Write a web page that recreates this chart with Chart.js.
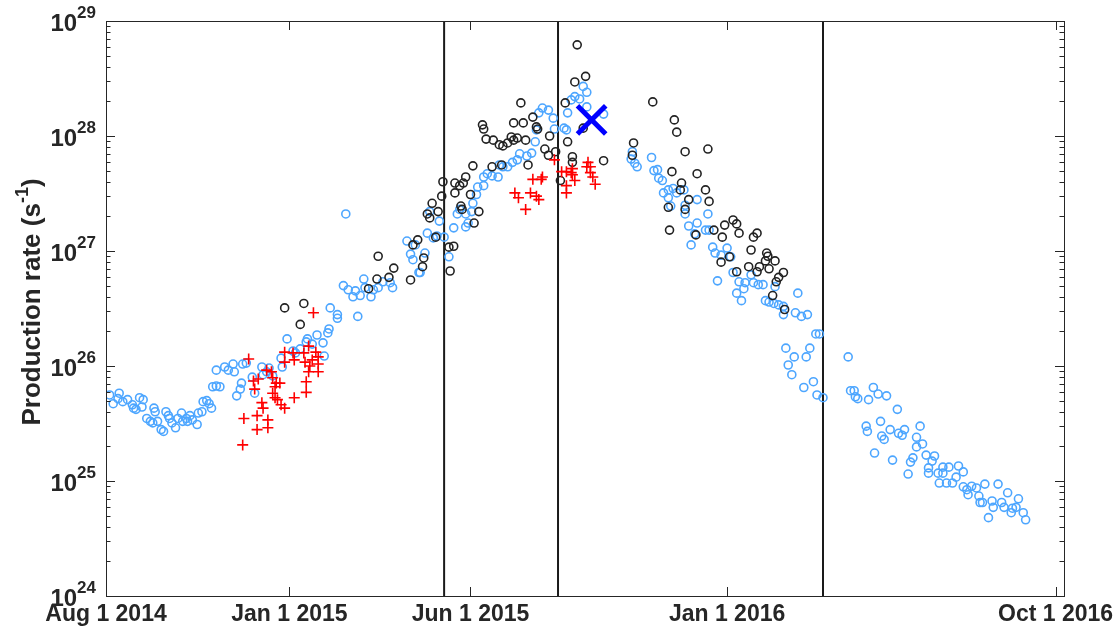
<!DOCTYPE html>
<html>
<head>
<meta charset="utf-8">
<script src="https://cdn.jsdelivr.net/npm/chart.js@4.4.1/dist/chart.umd.min.js"></script>
<style>
  html, body { margin: 0; padding: 0; background: #fff; }
</style>
</head>
<body>
<canvas id="chart" width="1119" height="630"></canvas>
<script>
// x values are days since Aug 1 2014, y values are production rates (s^-1)
const blueDays = [
  3, 6, 10, 11, 14, 18, 22, 23, 25, 28, 31, 30, 34, 37, 39, 40, 41, 43, 46, 48,
  50, 52, 53, 55, 58, 60, 63, 64, 67, 68, 70, 72, 76, 77, 80, 81, 84, 86, 88, 89,
  92, 95, 92, 99, 102, 106, 107, 109, 112, 113, 114, 117, 122, 124, 130, 131, 134, 136, 139, 146,
  147, 151, 156, 158, 162, 167, 168, 172, 176, 182, 181, 185, 186, 187, 193, 193,
  200, 210, 198, 202, 206, 208, 212, 215, 216, 221, 223, 227, 231, 237, 239, 251, 254, 256, 261, 258,
  270, 278, 268, 273, 276, 266, 262,
  361, 359, 358, 355, 351, 345, 343, 339, 335, 331, 328, 327, 322, 318, 315, 315, 310, 309, 306, 305,
  300, 295, 293, 302, 300, 290, 286, 282,
  364, 369, 373, 374, 382, 384, 385, 388, 391, 395, 398, 401, 401, 415,
  439, 438, 441, 443, 455, 457, 460, 461, 464, 465, 469, 473, 476, 482, 469, 471, 483, 483, 486,
  493, 493, 502, 500, 503, 491, 488, 506, 508, 513, 518, 521, 523, 510, 528, 533, 538, 532, 526, 530,
  540, 544, 548, 558, 550, 553, 557, 561, 565, 565, 577, 575, 580, 585, 592, 595, 567, 587, 574, 584,
  569, 572, 590, 582, 593, 598,
  619, 621, 624, 625, 627, 640, 636, 644, 651, 660, 634, 635, 646, 647, 649, 654, 661, 664, 666, 679,
  676, 681, 676, 641, 656, 671, 673, 669, 684, 691, 689, 686, 686, 694, 698, 703, 698, 695, 701, 706,
  709, 711, 715, 715, 718, 719, 722, 726, 728, 729, 731, 733, 739, 740, 744, 747, 749, 752, 756, 755,
  759, 761, 765, 767, 736
];
const blueRates = [
  5.6e25, 4.7e25, 5.2e25, 5.8e25, 4.9e25, 5.1e25, 4.6e25, 4.3e25, 4.2e25, 5.3e25, 5.1e25, 4.4e25, 3.5e25, 3.3e25, 3.2e25, 4.3e25, 4.0e25, 3.3e25, 2.8e25, 2.7e25,
  4.0e25, 3.7e25, 3.5e25, 3.2e25, 2.9e25, 3.5e25, 3.9e25, 3.3e25, 3.5e25, 3.3e25, 3.7e25, 3.4e25, 3.1e25, 3.9e25, 4.0e25, 4.9e25, 5.0e25, 4.7e25, 4.3e25, 6.6e25,
  6.7e25, 6.6e25, 9.2e25, 9.8e25, 9.2e25, 1.04e26, 8.9e25, 5.5e25, 6.3e25, 7.1e25, 1.04e26, 1.06e26, 8.0e25, 5.8e25, 9.8e25, 8.4e25, 8.9e25, 9.6e25, 8.2e25, 1.17e26,
  9.8e25, 1.72e26, 1.35e26, 1.30e26, 1.41e26, 1.62e26, 1.72e26, 1.55e26, 1.86e26, 1.22e26, 1.59e26, 1.94e26, 2.1e26, 3.2e26, 2.6e26, 2.8e26,
  2.1e27, 2.7e26, 5.0e26, 4.6e26, 4.0e26, 4.5e26, 4.1e26, 5.7e26, 4.8e26, 4.0e26, 4.6e26, 4.8e26, 5.4e26, 5.3e26, 4.8e26, 1.22e27, 9.4e26, 8.4e26, 6.5e26, 1.13e27,
  2.2e27, 1.82e27, 1.43e27, 1.30e27, 1.35e27, 9.6e26, 6.5e26,
  1.59e28, 1.13e28, 8.9e27, 7.1e27, 6.7e27, 7.0e27, 6.2e27, 5.9e27, 5.4e27, 5.4e27, 5.6e27, 4.4e27, 4.5e27, 4.7e27, 4.4e27, 3.7e27, 3.6e27, 3.1e27, 2.6e27, 2.2e27,
  2.1e27, 2.3e27, 2.1e27, 1.75e27, 1.62e27, 1.59e27, 8.9e26, 1.32e27,
  1.75e28, 1.68e28, 1.43e28, 1.15e28, 1.17e28, 1.13e28, 1.59e28, 2.06e28, 2.2e28, 2.1e28, 2.7e28, 2.4e28, 1.79e28, 1.55e28,
  7.3e27, 6.3e27, 5.8e27, 5.4e27, 6.5e27, 5.0e27, 5.1e27, 4.3e27, 4.1e27, 3.2e27, 3.4e27, 3.5e27, 3.2e27, 3.4e27, 2.9e27, 2.46e27, 2.5e27, 2.1e27, 1.65e27,
  2.8e27, 1.75e27, 2.1e27, 1.52e27, 1.52e27, 1.41e27, 1.13e27, 1.08e27, 9.6e26, 9.2e26, 1.06e27, 8.9e26, 6.5e26, 5.5e26, 5.4e26, 5.3e26, 6.2e26, 4.7e26, 4.3e26, 3.7e26,
  5.3e26, 5.1e26, 5.1e26, 4.9e26, 3.7e26, 3.6e26, 3.5e26, 3.4e26, 3.3e26, 2.8e26, 4.3e26, 2.9e26, 2.7e26, 2.8e26, 1.9e26, 1.9e26, 1.43e26, 1.43e26, 1.2e26, 1.2e26,
  1.02e26, 8.4e25, 7.3e25, 6.5e25, 5.6e25, 5.3e25,
  1.2e26, 6.1e25, 6.1e25, 5.4e25, 5.2e25, 6.5e25, 5.1e25, 5.7e25, 5.5e25, 4.2e25, 3.0e25, 2.7e25, 3.3e25, 2.46e25, 2.3e25, 2.8e25, 2.6e25, 2.5e25, 2.8e25, 3.0e25,
  2.4e25, 2.1e25, 1.98e25, 1.75e25, 1.52e25, 1.46e25, 1.59e25, 1.15e25, 1.68e25, 1.65e25, 1.49e25, 1.30e25, 1.17e25, 1.17e25, 1.32e25, 1.32e25, 1.17e25, 9.6e24, 9.6e24, 9.6e24,
  1.08e25, 1.35e25, 1.2e25, 8.9e24, 8.4e24, 7.6e24, 9.0e24, 8.7e24, 7.4e24, 6.5e24, 6.5e24, 9.4e24, 6.7e24, 5.9e24, 9.4e24, 6.5e24, 5.9e24, 7.9e24, 5.8e24, 5.3e24,
  5.9e24, 7.0e24, 5.3e24, 4.6e24, 4.8e24
];

const blackDays = [
  149, 165, 162, 227, 240, 226, 219, 236, 254, 260, 256,
  281, 280, 272, 268, 270, 277, 275, 265, 264, 286, 290, 287, 291, 291, 295, 298, 304, 296, 297,
  307, 311, 314, 315, 340, 348, 356, 359, 360, 317, 323, 328, 331, 335, 338, 340, 343, 350, 352, 306,
  322, 330, 300, 346, 393, 391, 400, 383, 370, 385, 366, 369, 375, 389, 389, 398, 415, 379,
  456, 474, 476, 440, 439, 483, 472, 480, 479, 486, 469, 483, 470,
  502, 493, 500, 503, 507, 516, 523, 526, 492, 514, 528, 540, 543, 538, 551, 552, 558, 550, 513, 520,
  536, 545, 543, 553, 526, 561, 565, 559, 556, 566
];
const blackRates = [
  3.2e26, 3.5e26, 2.3e26, 9.0e26, 7.1e26, 5.7e26, 4.7e26, 5.9e26, 5.6e26, 1.25e27, 1.13e27,
  4.0e27, 3.0e27, 2.6e27, 2.1e27, 1.94e27, 2.2e27, 1.32e27, 8.7e26, 7.3e26, 1.08e27, 1.1e27, 6.7e26, 3.2e27, 3.9e27, 3.7e27, 3.9e27, 3.1e27, 2.46e27, 2.3e27,
  1.75e27, 2.2e27, 1.25e28, 1.15e28, 1.3e28, 1.3e28, 1.46e28, 1.2e28, 1.15e28, 9.4e27, 9.2e27, 8.4e27, 8.2e27, 8.7e27, 9.8e27, 9.2e27, 9.6e27, 9.2e27, 5.6e27, 5.5e27,
  5.4e27, 5.6e27, 4.4e27, 1.94e28, 6.2e28, 2.95e28, 3.3e28, 1.94e28, 1.0e28, 8.9e27, 7.7e27, 6.8e27, 7.3e27, 6.6e27, 5.9e27, 1.17e28, 6.1e27, 4.1e27,
  1.98e28, 1.38e28, 1.08e28, 8.7e27, 6.8e27, 7.3e27, 4.9e27, 3.9e27, 3.4e27, 2.8e27, 2.4e27, 2.3e27, 1.52e27,
  7.7e27, 4.7e27, 3.4e27, 2.7e27, 1.52e27, 1.68e27, 1.86e27, 1.72e27, 1.38e27, 1.32e27, 1.43e27, 1.32e27, 1.43e27, 1.02e27, 9.6e26, 9.0e26, 8.2e26, 8.2e26, 8.0e26, 8.9e26,
  7.3e26, 7.3e26, 6.6e26, 7.0e26, 6.6e26, 5.9e26, 6.5e26, 5.4e26, 4.1e26, 3.1e26
];

const redDays = [
  173, 119, 123, 127, 124, 130, 131, 115, 126, 126, 114, 135, 135, 134, 138, 139, 141, 139, 142, 145,
  141, 143, 146, 149, 149, 149, 156, 157, 157, 165, 166, 167, 167, 169, 169, 172, 175, 177, 177, 177,
  170,
  374, 384, 388, 389, 389, 391, 384, 384, 402, 401, 404, 404, 406, 408, 356, 363, 364, 341, 344, 354,
  359, 361, 350, 380
];
const redRates = [
  2.9e26, 1.15e26, 7.4e25, 7.7e25, 6.3e25, 4.8e25, 4.3e25, 3.5e25, 3.7e25, 2.8e25, 2.06e25, 3.4e25, 2.9e25, 9.2e25, 8.9e25, 7.9e25, 6.6e25, 5.8e25, 7.1e25, 7.1e25,
  5.3e25, 5.1e25, 4.6e25, 4.3e25, 1.32e26, 1.08e26, 1.3e26, 1.13e26, 5.3e25, 1.3e26, 1.08e26, 7.3e25, 5.9e25, 1.49e26, 8.9e25, 1.13e26, 1.32e26, 1.2e26, 1.04e26, 8.9e25,
  1.0e26,
  6.2e27, 4.9e27, 4.8e27, 5.2e27, 4.6e27, 4.1e27, 3.7e27, 3.2e27, 5.9e27, 5.4e27, 5.4e27, 4.8e27, 4.4e27, 3.8e27, 4.2e27, 4.2e27, 4.4e27, 3.2e27, 2.9e27, 3.2e27,
  3.0e27, 2.8e27, 2.3e27, 4.9e27
];

const markDays = [405];
const markRates = [1.38e28];

// vertical event lines (days since Aug 1 2014)
const eventDays = [282, 377, 598];

const tickDays = [0, 153, 304, 518, 792];
const tickLabels = ['Aug 1 2014', 'Jan 1 2015', 'Jun 1 2015', 'Jan 1 2016', 'Oct 1 2016'];
const decades = [24, 25, 26, 27, 28, 29];
const yMin = 1e24, yMax = 1e29;

const pts = (xs, ys) => xs.map((d, i) => ({ x: d, y: ys[i] }));

const textColor = '#262626';
const font = 'Liberation Sans, Arial, Helvetica, sans-serif';

const axesPlugin = {
  id: 'matlabAxes',
  afterDraw(chart) {
    const { ctx, chartArea: a, scales: { x, y } } = chart;
    ctx.save();
    ctx.strokeStyle = textColor;
    ctx.lineWidth = 1;
    const seg = (x1, y1, x2, y2) => {
      ctx.beginPath(); ctx.moveTo(x1, y1); ctx.lineTo(x2, y2); ctx.stroke();
    };
    ctx.strokeRect(Math.round(a.left) + 0.5, Math.round(a.top) + 0.5,
      Math.round(a.right - a.left), Math.round(a.bottom - a.top));

    // log ticks, major and minor, inward on both sides
    decades.forEach(e => {
      for (let m = 1; m < 10; m++) {
        if (e === decades[decades.length - 1] && m > 1) break;
        const py = Math.round(y.getPixelForValue(m * Math.pow(10, e))) + 0.5;
        const len = m === 1 ? 9 : 4.5;
        seg(a.left, py, a.left + len, py);
        seg(a.right, py, a.right - len, py);
      }
    });
    tickDays.forEach(d => {
      const px = Math.round(x.getPixelForValue(d)) + 0.5;
      seg(px, a.bottom, px, a.bottom - 9);
      seg(px, a.top, px, a.top + 9);
    });

    ctx.fillStyle = textColor;
    // y tick labels 10^n
    decades.forEach(e => {
      const py = y.getPixelForValue(Math.pow(10, e));
      ctx.font = 'bold 17px ' + font;
      const ew = ctx.measureText(String(e)).width;
      ctx.textAlign = 'right';
      ctx.textBaseline = 'alphabetic';
      ctx.fillText(String(e), 96, py - 3);
      ctx.font = 'bold 24px ' + font;
      ctx.fillText('10', 96 - ew, py + 10);
    });

    // x tick labels
    ctx.font = 'bold 23px ' + font;
    ctx.textAlign = 'center';
    ctx.textBaseline = 'alphabetic';
    tickDays.forEach((d, i) => {
      ctx.fillText(tickLabels[i], x.getPixelForValue(d), 621);
    });

    // y axis title with superscript
    ctx.translate(31, 302);
    ctx.rotate(-Math.PI / 2);
    ctx.textAlign = 'left';
    ctx.font = 'bold 26px ' + font;
    const t1 = 'Production rate (s', t3 = ')';
    const w1 = ctx.measureText(t1).width, w3 = ctx.measureText(t3).width;
    ctx.font = 'bold 18px ' + font;
    const w2 = ctx.measureText('-1').width;
    let cx = -(w1 + w2 + w3) / 2;
    ctx.font = 'bold 26px ' + font;
    ctx.fillText(t1, cx, 9);
    ctx.font = 'bold 18px ' + font;
    ctx.fillText('-1', cx + w1, -3);
    ctx.font = 'bold 26px ' + font;
    ctx.fillText(t3, cx + w1 + w2, 9);
    ctx.restore();
  }
};

new Chart(document.getElementById('chart').getContext('2d'), {
  type: 'scatter',
  data: {
    datasets: [
      {
        label: 'mark',
        data: pts(markDays, markRates),
        pointStyle: 'crossRot',
        pointRadius: 20,
        borderColor: '#0000ff',
        borderWidth: 5,
        order: 0
      },
      {
        label: 'red',
        data: pts(redDays, redRates),
        pointStyle: 'cross',
        pointRadius: 5.5,
        borderColor: '#ff0000',
        borderWidth: 1.6,
        order: 1
      },
      {
        label: 'black',
        data: pts(blackDays, blackRates),
        pointStyle: 'circle',
        pointRadius: 4,
        borderColor: '#222222',
        backgroundColor: 'rgba(0,0,0,0)',
        borderWidth: 1.6,
        order: 2
      },
      {
        label: 'blue',
        data: pts(blueDays, blueRates),
        pointStyle: 'circle',
        pointRadius: 4,
        borderColor: '#4da6ff',
        backgroundColor: 'rgba(0,0,0,0)',
        borderWidth: 1.6,
        order: 3
      },
      ...eventDays.map(d => ({
        type: 'line',
        label: 'event',
        data: [{ x: d, y: yMin }, { x: d, y: yMax }],
        borderColor: '#1a1a1a',
        borderWidth: 2,
        pointRadius: 0,
        order: 4
      }))
    ]
  },
  options: {
    responsive: false,
    animation: false,
    layout: { autoPadding: false, padding: { top: 21, right: 55, left: 0, bottom: 0 } },
    scales: {
      x: {
        type: 'linear',
        min: 0,
        max: 799,
        grid: { display: false },
        border: { display: false },
        ticks: { display: false },
        afterFit: s => { s.height = 34; }
      },
      y: {
        type: 'logarithmic',
        min: yMin,
        max: yMax,
        grid: { display: false },
        border: { display: false },
        ticks: { display: false },
        afterFit: s => { s.width = 106; }
      }
    },
    plugins: {
      legend: { display: false },
      tooltip: { enabled: false }
    }
  },
  plugins: [axesPlugin]
});
</script>
</body>
</html>
